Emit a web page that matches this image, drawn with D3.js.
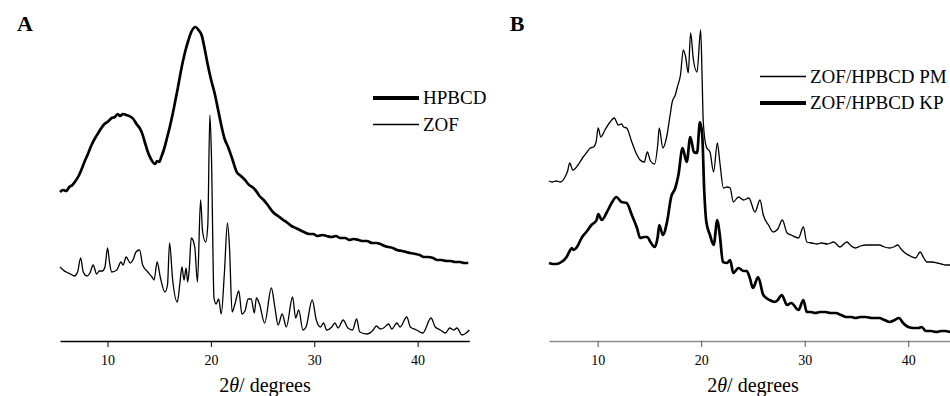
<!DOCTYPE html>
<html>
<head>
<meta charset="utf-8">
<script src="https://cdn.jsdelivr.net/npm/d3@7"></script>
<style>
  body { margin: 0; background: #fff; }
  svg { display: block; }
  svg text { font-family: "Liberation Serif", "DejaVu Serif", serif; }
</style>
</head>
<body>
<div id="chart"></div>
<script>
// 2theta (degrees), intensity (a.u.)
const hpbcd = [[5.4,149],[5.7,151],[6.0,150],[6.3,154],[6.6,156],[6.9,160],[7.2,165],[7.5,172],[7.8,180],[8.1,187],[8.45,196],[8.8,203],[9.1,208],[9.4,213],[9.7,217],[10.0,219],[10.4,223],[10.7,224],[11.0,227],[11.2,225],[11.5,227],[11.8,226],[12.1,225],[12.5,222],[12.8,217],[13.1,213],[13.3,209],[13.6,199],[13.9,189],[14.2,182],[14.6,177],[14.8,180],[15.0,179],[15.2,184],[15.5,193],[15.8,205],[16.0,213],[16.4,232],[16.8,253],[17.1,270],[17.5,289],[17.8,300],[18.1,309],[18.5,314],[18.8,311],[19.1,306],[19.4,292],[19.7,276],[20.0,262],[20.4,246],[20.7,231],[21.0,216],[21.3,203],[21.7,193],[22.1,181],[22.5,169],[22.9,165],[23.3,161],[23.7,156],[24.0,154],[24.3,151],[24.7,145],[25.1,141],[25.5,136],[26.0,129],[26.5,125],[27.0,121],[27.3,119],[27.8,115],[28.2,113],[28.6,111],[29.0,109],[29.5,107],[29.9,107],[30.3,105],[30.8,106],[31.2,105],[31.7,104],[32.1,105],[32.5,103],[33.0,103],[33.4,101],[33.8,102],[34.3,101],[34.7,100],[35.1,100],[35.6,98],[36.0,98],[36.4,97],[36.8,95],[37.2,94],[37.6,93],[38.0,91],[38.5,90],[38.9,89],[39.3,88],[39.8,87],[40.2,86],[40.6,84],[41.0,84],[41.5,83],[41.9,81],[42.3,81],[42.8,80],[43.2,80],[43.6,79],[44.1,79],[44.5,78],[44.9,78]];

const zof = [[5.4,74],[5.7,71],[6.0,69],[6.4,67],[6.8,65],[7.1,69],[7.4,83],[7.65,69],[8.0,65],[8.3,68],[8.6,76],[8.95,67],[9.2,70],[9.5,70],[9.75,74],[10.0,93],[10.2,78],[10.4,69],[10.9,71],[11.3,79],[11.5,76],[11.8,84],[12.2,78],[12.5,82],[12.75,89],[13.1,91],[13.4,76],[13.9,69],[14.3,64],[14.5,61],[14.8,79],[15.1,64],[15.55,49],[15.8,56],[16.0,98],[16.3,61],[16.75,39],[17.0,58],[17.2,74],[17.4,61],[17.6,73],[17.75,59],[17.9,71],[18.1,103],[18.3,100],[18.45,93],[18.7,59],[19.0,141],[19.2,109],[19.5,99],[19.7,116],[19.9,226],[20.05,186],[20.3,43],[20.5,37],[20.75,42],[21.0,27],[21.3,67],[21.6,118],[21.8,93],[22.05,29],[22.3,36],[22.7,50],[23.0,27],[23.3,30],[23.6,42],[23.9,42],[24.2,28],[24.4,43],[24.7,37],[25.2,18],[25.85,53],[26.2,33],[26.5,16],[26.9,27],[27.3,14],[27.9,44],[28.2,23],[28.5,31],[28.9,11],[29.2,14],[29.8,41],[30.2,21],[30.6,14],[30.9,18],[31.2,11],[31.7,14],[32.0,18],[32.3,13],[32.8,21],[33.25,13],[33.7,11],[34.1,22],[34.4,9],[35.1,7],[35.7,11],[36.0,15],[36.4,12],[36.7,13],[37.2,17],[37.5,12],[38.0,18],[38.3,14],[38.95,24],[39.3,14],[39.9,11],[40.5,8],[41.3,23],[41.7,14],[42.2,11],[42.7,8],[43.1,13],[43.5,11],[43.8,13],[44.3,6],[44.7,8],[45.0,11]];

const pm = [[5.3,160],[5.6,159],[6.0,160],[6.4,159],[6.85,164],[7.1,170],[7.3,178],[7.6,171],[8.1,176],[8.6,184],[8.9,188],[9.3,193],[9.6,194],[9.85,199],[10.05,213],[10.3,204],[10.7,211],[11.2,219],[11.6,223],[12.0,216],[12.3,217],[12.5,214],[12.8,213],[13.3,199],[13.8,186],[14.1,181],[14.5,179],[14.8,189],[15.1,180],[15.5,177],[15.8,196],[15.95,213],[16.3,193],[16.7,206],[17.0,226],[17.2,239],[17.5,246],[17.7,254],[18.0,266],[18.27,291],[18.5,284],[18.75,268],[18.98,308],[19.25,281],[19.6,269],[19.95,311],[20.1,259],[20.2,219],[20.5,194],[20.85,189],[21.2,169],[21.56,198],[21.8,179],[22.15,153],[22.5,154],[22.8,153],[23.1,139],[23.6,144],[24.1,141],[24.6,143],[25.2,129],[25.68,141],[26.0,126],[26.5,116],[26.95,109],[27.4,112],[27.84,121],[28.3,108],[28.7,106],[29.4,103],[29.87,114],[30.2,99],[30.7,98],[31.2,97],[31.6,98],[32.2,97],[32.8,99],[33.4,94],[34.06,99],[34.5,95],[34.9,93],[35.4,95],[35.9,96],[36.5,96],[37.2,96],[37.7,94],[38.2,93],[38.6,94],[39.0,96],[39.3,92],[39.7,88],[40.2,85],[40.7,83],[41.15,89],[41.5,83],[41.8,79],[42.3,79],[42.8,78],[43.2,77],[43.6,76],[44.0,76],[44.5,75],[45.0,75]];

const kp = [[5.3,78],[5.7,77],[6.0,77],[6.5,79],[7.0,84],[7.3,90],[7.5,93],[7.7,91],[8.0,94],[8.5,104],[8.9,109],[9.4,116],[9.9,121],[10.06,127],[10.4,121],[10.85,128],[11.35,138],[11.8,144],[12.3,139],[12.8,138],[13.3,126],[13.8,113],[14.1,103],[14.5,104],[14.8,104],[15.1,99],[15.5,94],[15.8,104],[15.95,116],[16.3,106],[16.7,119],[17.1,144],[17.5,153],[17.8,166],[18.2,193],[18.6,179],[18.95,204],[19.3,189],[19.6,188],[19.88,219],[20.1,206],[20.3,149],[20.5,119],[20.85,106],[21.2,96],[21.56,121],[21.8,106],[22.1,79],[22.5,78],[22.8,81],[23.1,68],[23.6,73],[24.1,70],[24.4,70],[24.7,63],[25.0,53],[25.5,64],[26.0,46],[26.6,41],[27.1,39],[27.4,41],[27.78,46],[28.3,36],[28.7,38],[29.4,31],[29.87,41],[30.2,29],[30.6,29],[31.0,28],[31.5,29],[32.0,29],[32.5,28],[33.0,28],[33.5,26],[34.0,24],[34.5,24],[34.9,23],[35.4,24],[35.9,24],[36.5,23],[37.2,23],[37.7,21],[38.2,19],[38.7,21],[39.1,23],[39.5,18],[40.0,14],[40.5,13],[41.0,13],[41.3,14],[41.7,10],[42.2,10],[42.7,9],[43.2,10],[43.6,10],[44.1,9],[44.6,9],[45.0,9]];

const xTicks = [10, 20, 30, 40];
const serif = 'Liberation Serif, DejaVu Serif, serif';

const panels = [
  { label: 'A', domain: [5.4, 45], range: [60, 469.3], axisColor: '#000', tickColor: '#000',
    series: [
      { name: 'HPBCD', data: hpbcd, width: 2.7, legendWidth: 4 },
      { name: 'ZOF', data: zof, width: 1.3, legendWidth: 1.7 }
    ],
    labelX: 25, legendX: 373, legendY: 98, titleX: 265 },
  { label: 'B', domain: [5.3, 45], range: [549, 960], axisColor: '#8c8c8c', tickColor: '#555',
    series: [
      { name: 'ZOF/HPBCD PM', data: pm, width: 1.3, legendWidth: 1.7 },
      { name: 'ZOF/HPBCD KP', data: kp, width: 2.7, legendWidth: 4 }
    ],
    labelX: 517, legendX: 760, legendY: 76.5, titleX: 753 }
];

const width = 950, height = 396;
const baseY = 341;

const svg = d3.select('#chart').append('svg')
  .attr('width', width)
  .attr('height', height);

const y = d3.scaleLinear().domain([0, 330]).range([baseY, 11]);

panels.forEach((p) => {
  const x = d3.scaleLinear().domain(p.domain).range(p.range);
  const g = svg.append('g');

  const line = d3.line()
    .curve(d3.curveMonotoneX)
    .x((d) => x(d[0]))
    .y((d) => y(d[1]));

  p.series.forEach((s) => {
    g.append('path')
      .datum(s.data)
      .attr('fill', 'none')
      .attr('stroke', '#000')
      .attr('stroke-width', s.width)
      .attr('stroke-linejoin', 'round')
      .attr('d', line);
  });

  const axis = g.append('g')
    .attr('transform', 'translate(0,' + baseY + ')')
    .call(d3.axisBottom(x).tickValues(xTicks).tickSize(6).tickSizeOuter(0).tickPadding(8))
    .attr('font-family', serif)
    .attr('font-size', 14);
  axis.select('.domain').attr('stroke', p.axisColor).attr('stroke-width', 1.5);
  axis.selectAll('.tick line').attr('stroke', p.tickColor).attr('stroke-width', 1);
  axis.selectAll('.tick text').attr('fill', '#000');

  const title = g.append('text')
    .attr('x', p.titleX)
    .attr('y', 392)
    .attr('text-anchor', 'middle')
    .attr('font-family', serif)
    .attr('font-size', 20);
  title.append('tspan').text('2');
  title.append('tspan').attr('font-style', 'italic').text('θ');
  title.append('tspan').text('/ degrees');

  g.append('text')
    .attr('x', p.labelX)
    .attr('y', 31)
    .attr('text-anchor', 'middle')
    .attr('font-family', serif)
    .attr('font-size', 22)
    .attr('font-weight', 'bold')
    .text(p.label);

  p.series.forEach((s, i) => {
    const ly = p.legendY + i * 26.5;
    g.append('line')
      .attr('x1', p.legendX)
      .attr('x2', p.legendX + 46)
      .attr('y1', ly)
      .attr('y2', ly)
      .attr('stroke', '#000')
      .attr('stroke-width', s.legendWidth);
    g.append('text')
      .attr('x', p.legendX + 50)
      .attr('y', ly + 6)
      .attr('font-family', serif)
      .attr('font-size', 19)
      .text(s.name);
  });
});
</script>
</body>
</html>
